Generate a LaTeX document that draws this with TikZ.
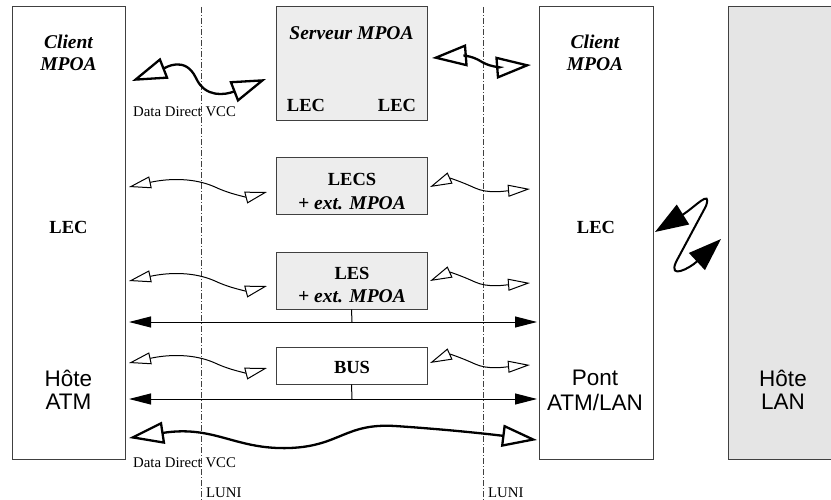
\documentclass[tikz,border=0pt]{standalone}
\usepackage{fontspec}
\setmainfont{Liberation Serif}
\newfontfamily\sansfam{Liberation Sans}
\usetikzlibrary{arrows.meta}
\begin{document}
\begin{tikzpicture}[x=1pt,y=-1pt,
  box/.style={draw=black!75, line width=1pt, inner sep=0pt},
  gbox/.style={box, fill=black!7},
  luni/.style={draw=black!75, line width=0.8pt, dash pattern=on 6pt off 2pt on 1pt off 2pt},
  lbl/.style={inner sep=0pt},
  bl/.style={lbl, font=\fontsize{18.5}{20}\selectfont\bfseries},
  bi/.style={lbl, font=\fontsize{19.5}{21}\selectfont\bfseries\itshape},
  sm/.style={lbl, font=\fontsize{14.8}{16}\selectfont},
  sf/.style={lbl, font=\sansfam\fontsize{22.5}{25}\selectfont},
  thinw/.style={line width=1pt, {Triangle[open,length=22pt,width=12pt]}-{Triangle[open,length=22pt,width=12pt]}},
  thickw/.style={line width=2.3pt, {Triangle[open,length=35pt,width=22pt]}-{Triangle[open,length=35pt,width=22pt]}},
  busline/.style={line width=1pt, {Triangle[length=22pt,width=11pt]}-{Triangle[length=22pt,width=11pt]}},
  zarrow/.style={line width=2pt, {Triangle[length=33pt,width=23pt]}-{Triangle[length=33pt,width=23pt]}},
]
\useasboundingbox (0,0) rectangle (831,500);

% boxes
\node[box, minimum width=113pt, minimum height=452pt] (hatm) at (68.5,233) {};
\node[box, minimum width=114pt, minimum height=452pt] (pont) at (596,233) {};
\node[gbox, fill=black!10, minimum width=108pt, minimum height=452pt] (hlan) at (782,233) {};
\node[gbox, minimum width=151pt, minimum height=114pt] (serv) at (351.5,64) {};
\node[gbox, minimum width=151pt, minimum height=57pt] (lecs) at (351.5,186.5) {};
\node[gbox, minimum width=151pt, minimum height=56pt] (les) at (351.5,281) {};
\node[box, fill=white, minimum width=151pt, minimum height=37pt] (bus) at (351.5,365.5) {};

% LUNI lines
\coordinate (l1t) at (201,7); \coordinate (l1b) at (201,500);
\coordinate (l2t) at (483,7); \coordinate (l2b) at (483,500);
\draw[luni] (l1t) -- (l1b);
\draw[luni] (l2t) -- (l2b);
\node[sm, anchor=west] (luni1) at (206,493) {LUNI};
\node[sm, anchor=west] (luni2) at (488,493) {LUNI};

% texts
\node[bi] (c1a) at (68.5,42) {Client};
\node[bi] (c1b) at (68.5,64) {MPOA};
\node[bl] (lec1) at (68.5,227) {LEC};
\node[sf] (h1a) at (68.5,378) {Hôte};
\node[sf] (h1b) at (68.5,402) {ATM};

\node[bi] (c2a) at (595,42) {Client};
\node[bi] (c2b) at (595,64) {MPOA};
\node[bl] (lec2) at (596,227) {LEC};
\node[sf] (p2a) at (595,378) {Pont};
\node[sf] (p2b) at (595,402) {ATM/LAN};

\node[sf] (h3a) at (783,378) {Hôte};
\node[sf] (h3b) at (783,402) {LAN};

\node[bi] (st) at (351.5,33) {Serveur MPOA};
\node[bl] (sl1) at (306,105) {LEC};
\node[bl] (sl2) at (397,105) {LEC};

\node[bl] (lecst) at (352,179) {LECS};
\node[bi] (lecsx) at (352,203) {+ ext. MPOA};
\node[bl] (lest) at (352,273) {LES};
\node[bi] (lesx) at (352,296) {+ ext. MPOA};
\node[bl] (bust) at (352,367) {BUS};

\node[sm, anchor=west] (dd1) at (133,112) {Data Direct VCC};
\node[sm, anchor=west] (dd2) at (133,463) {Data Direct VCC};

% thin wavy arrows
\foreach \dy in {0,94,176} {
  \begin{scope}[shift={(0,\dy)}]
    \coordinate (wl1) at (129,187); \coordinate (wl2) at (267,192);
    \coordinate (wr1) at (430,187); \coordinate (wr2) at (530,189);
    \draw[thinw] (wl1) .. controls (170,178) and (195,178) .. (215,187)
                       .. controls (232,195) and (248,197) .. (wl2);
    \draw[thinw] (wr1) .. controls (450,178) and (462,182) .. (475,188)
                       .. controls (488,194) and (505,191) .. (wr2);
  \end{scope}
}

% straight lines with filled arrows
\coordinate (s1l) at (129,322); \coordinate (s1r) at (537,322); \coordinate (s1m) at (352,322);
\coordinate (s2l) at (129,399); \coordinate (s2r) at (537,399); \coordinate (s2m) at (352,399);
\draw[busline] (s1l) -- (s1r);
\draw[line width=1pt] (les.south) -- (s1m);
\draw[busline] (s2l) -- (s2r);
\draw[line width=1pt] (bus.south) -- (s2m);

% thick wavy arrows
\coordinate (t1a) at (132,81); \coordinate (t1b) at (266,79);
\draw[thickw] (t1a) .. controls (165,68) and (185,55) .. (196,78)
                    .. controls (205,98) and (225,95) .. (t1b);
\coordinate (t2a) at (432,58); \coordinate (t2b) at (531,65);
\draw[thickw] (t2a) .. controls (458,56) and (470,54) .. (482,62)
                    .. controls (492,68) and (505,67) .. (t2b);
\coordinate (t3a) at (129,438); \coordinate (t3b) at (537,440);
\draw[thickw] (t3a) .. controls (215,425) and (235,450) .. (290,448)
                    .. controls (340,446) and (345,423) .. (395,426)
                    .. controls (440,429) and (480,433) .. (t3b);

% Z arrow between bridge and LAN host
\coordinate (za) at (655,232); \coordinate (zb) at (721,239);
\draw[zarrow] (za) .. controls (695,207) and (712,188) .. (706,206)
                   -- (676,262) .. controls (668,280) and (690,268) .. (zb);
\end{tikzpicture}
\end{document}
